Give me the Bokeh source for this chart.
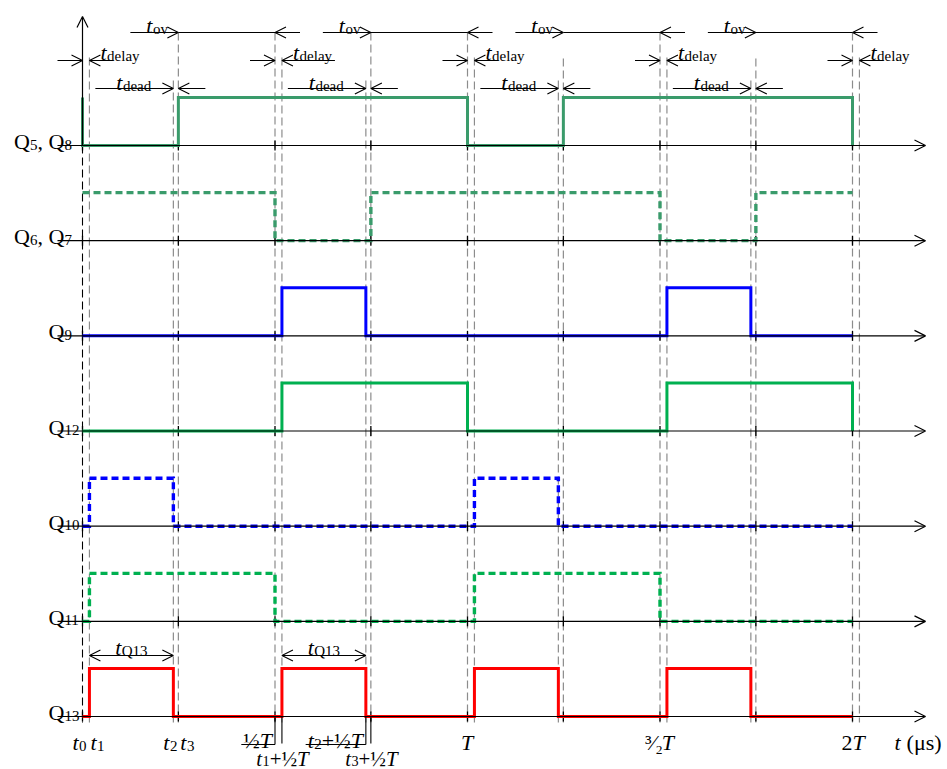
from bokeh.plotting import figure
from bokeh.models import ColumnDataSource, Arrow, OpenHead
from bokeh.core.properties import value, field
from bokeh.embed import file_html
from bokeh.resources import INLINE

# ---------------- data (time in units of the switching period T) ----------------
t1 = 0.018
t2 = 0.236
t3 = 0.249
half_periods = [0.0, 0.5, 1.0, 1.5, 2.0]

row_names = ["Q_5, Q_8", "Q_6, Q_7", "Q_9", "Q_12", "Q_10", "Q_11", "Q_13"]

q58_t = [0.0, 0.0, 0.249, 1.0, 1.249, 2.0]
q58_v = [1, 0, 1, 0, 1, 0]
q67_t = [0.0, 0.5, 0.749, 1.5, 1.749, 2.0]
q67_v = [1, 0, 1, 0, 1, 1]
q9_t = [0.0, 0.518, 0.736, 1.518, 1.736, 2.0]
q9_v = [0, 1, 0, 1, 0, 0]
q12_t = [0.0, 0.518, 1.0, 1.518, 2.0]
q12_v = [0, 1, 0, 1, 0]
q10_t = [0.0, 0.018, 0.236, 1.018, 1.236, 2.0]
q10_v = [0, 1, 0, 1, 0, 0]
q11_t = [0.0, 0.018, 0.5, 1.018, 1.5, 2.0]
q11_v = [0, 1, 0, 1, 0, 0]
q13_t = [0.0, 0.018, 0.236, 0.518, 0.736, 1.018, 1.236, 1.518, 1.736, 2.0]
q13_v = [0, 1, 0, 1, 0, 1, 0, 1, 0, 0]

guide_t1 = [0.018, 0.518, 1.018, 1.518, 2.018]
guide_t2 = [0.236, 0.736, 1.236, 1.736]
guide_t3 = [0.249, 0.749, 1.249, 1.749]
guide_half = [0.5, 1.0, 1.5, 2.0]
tick_times = [0.0, 0.249, 0.5, 0.749, 1.0, 1.249, 1.5, 1.749, 2.0]

axis_texts = ["t_0", "t_1", "t_2", "t_3", "½T", "t_1+½T", "t_2+½T", "t_3+½T", "T", "³⁄₂T", "2T"]
axis_times = [0.0, 0.018, 0.236, 0.249, 0.5, 0.518, 0.736, 0.749, 1.0, 1.5, 2.0]
unit_text = "t (μs)"

# ---------------- layout ----------------
W, H = 947, 769
OFF = 0.0                   # picture px of the figure's top-left corner
X0, SX = 82.0, 385.0        # picture px of t=0, px per T
Y0, SY = 145.0, 95.17       # picture px of first baseline, px per row
AMP = 48.0 / SY


def X(px):
    return (px - X0) / SX


def Y(py):
    return (Y0 - py) / SY


def PX(t):
    return X0 + SX * t


def PY(row):
    return Y0 + SY * row


p = figure(width=W, height=H, x_range=(X(OFF), X(OFF + W)), y_range=(Y(OFF + H), Y(OFF)),
           x_axis_type=None, y_axis_type=None, output_backend="svg",
           toolbar_location=None, min_border=0)
p.grid.visible = False
p.outline_line_color = None
p.background_fill_color = "white"
p.border_fill_color = "white"

FONT = value("Liberation Serif")
MAIN, SUB, SUBDROP = 22, 15, 3

# ---- guide lines (gray dashed) ----
gx, gy0, gy1 = [], [], []
for t in guide_t1:
    gx.append(X(PX(t))); gy0.append(Y(57)); gy1.append(Y(722))
for t in guide_t2:
    gx.append(X(PX(t))); gy0.append(Y(80)); gy1.append(Y(722))
for i, t in enumerate(guide_t3):
    gx.append(X(PX(t))); gy0.append(Y(32 if i < 2 else 58)); gy1.append(Y(722))
for t in guide_half:
    gx.append(X(PX(t))); gy0.append(Y(32)); gy1.append(Y(722))
p.segment(x0=gx, y0=gy0, x1=gx, y1=gy1, line_color="#8c8c8c", line_width=1.2, line_dash="8 4")

# t0 line: solid y-axis above first baseline, black dashed below
p.segment(x0=[0], y0=[Y(145)], x1=[0], y1=[Y(722)], line_color="black", line_width=1.1, line_dash="8 4")
p.add_layout(Arrow(end=OpenHead(size=11, line_width=1.2, line_color="black"),
                   x_start=0, y_start=Y(145), x_end=0, y_end=Y(16),
                   line_color="black", line_width=1.2))

# ---- baselines with arrows ----
for r in range(len(row_names)):
    p.add_layout(Arrow(end=OpenHead(size=11, line_width=1.2, line_color="black"),
                       x_start=X(57), y_start=-r, x_end=X(925), y_end=-r,
                       line_color="black", line_width=1.2))
    tx = tick_times
    p.segment(x0=tx, x1=tx, y0=[-r + 5 / SY] * len(tx), y1=[-r - 5 / SY] * len(tx),
              line_color="black", line_width=1.3)

# ---- signals ----
signals = [
    (q58_t, q58_v, "#3a9b6b", None),
    (q67_t, q67_v, "#3a9b6b", "7 4"),
    (q9_t, q9_v, "#0000ff", None),
    (q12_t, q12_v, "#00b050", None),
    (q10_t, q10_v, "#0000ff", "7 4"),
    (q11_t, q11_v, "#00b050", "7 4"),
    (q13_t, q13_v, "#ff0000", None),
]
for r, (ts, vs, col, dash) in enumerate(signals):
    xs = [ts[0]]
    ys = [vs[0] * AMP - r]
    for i in range(1, len(ts)):
        xs += [ts[i], ts[i]]
        ys += [vs[i - 1] * AMP - r, vs[i] * AMP - r]
    kw = dict(line_color=col, line_width=3.4 if dash else 3.0, line_join="miter")
    if dash:
        kw["line_dash"] = dash
    p.line(xs, ys, **kw)

# ---- dimension arrows ----
ax0, ay0, ax1, ay1 = [], [], [], []
sx0, sy0, sx1, sy1 = [], [], [], []


def arrow(px_from, px_to, py):
    ax0.append(X(px_from)); ax1.append(X(px_to)); ay0.append(Y(py)); ay1.append(Y(py))


def seg(pa, pb, py):
    sx0.append(X(pa)); sx1.append(X(pb)); sy0.append(Y(py)); sy1.append(Y(py))


# text runs
TX, TY, TT, TS, TST = [], [], [], [], []
UPW = {'Q': 0.722, ',': 0.25, ' ': 0.25, '+': 0.564, '½': 0.75, '(': 0.333, ')': 0.333,
       'μ': 0.576, 's': 0.389, 'd': 0.5, 'e': 0.444, 'l': 0.278, 'a': 0.444, 'y': 0.5,
       'o': 0.5, 'v': 0.5, '³': 0.3, '⁄': 0.167, '₂': 0.3}
ITW = {'t': 0.30, 'T': 0.60}


def parse(s):
    runs = []
    i = 0
    while i < len(s):
        c = s[i]
        if c == '_':
            j = i + 1
            while j < len(s) and s[j].isalnum():
                j += 1
            runs.append((s[i + 1:j], 'sub'))
            i = j
        elif c in 'tT':
            runs.append((c, 'it'))
            i += 1
        else:
            j = i
            while j < len(s) and s[j] not in '_tT':
                j += 1
            runs.append((s[i:j], 'up'))
            i = j
    return runs


def run_w(txt, kind, scale=1.0):
    size = (SUB if kind == 'sub' else MAIN) * scale
    table = ITW if kind == 'it' else UPW
    return sum(table.get(c, 0.5) for c in txt) * size


def text_w(s, scale=1.0):
    return sum(run_w(t, k, scale) for t, k in parse(s))


def label(px, py, s, align="left", scale=1.0):
    runs = parse(s)
    total = sum(run_w(t, k, scale) for t, k in runs)
    cur = px - (total if align == "right" else total / 2 if align == "center" else 0)
    for t, k in runs:
        lead = len(t) - len(t.lstrip(" "))
        if lead:
            cur += run_w(t[:lead], k, scale)
            t = t[lead:]
        body = t.rstrip(" ")
        TX.append(X(cur))
        TY.append(Y(py + (SUBDROP * scale if k == 'sub' else 0)))
        TT.append(body)
        TS.append(f"{(SUB if k == 'sub' else MAIN) * scale:.1f}px")
        TST.append("italic" if k == 'it' else "normal")
        cur += run_w(t, k, scale)


# t_ov
for k in range(4):
    a = PX(t3 + 0.5 * k)
    b = PX(0.5 + 0.5 * k)
    seg(a, b, 32)
    arrow(a - 48, a, 32)
    arrow(b + 25, b, 32)
    label(a - 32, 25, "t_ov")

# t_delay
for k, h in enumerate(half_periods):
    a = PX(h)
    c = PX(h + t1)
    arrow(a - 25, a, 60)
    arrow(c + (53 if k == 1 else 24), c, 60)
    label(a + 18, 52, "t_delay")

# t_dead
for k in range(4):
    a = PX(t2 + 0.5 * k)
    b = PX(t3 + 0.5 * k)
    arrow(a - 78, a, 88)
    arrow(b + 27, b, 88)
    label(a - 57, 82, "t_dead")

if sx0:
    p.segment(x0=sx0, y0=sy0, x1=sx1, y1=sy1, line_color="black", line_width=1.1)
p.add_layout(Arrow(end=OpenHead(size=11, line_width=1.1, line_color="black"),
                   source=ColumnDataSource(dict(x0=ax0, y0=ay0, x1=ax1, y1=ay1)),
                   x_start="x0", y_start="y0", x_end="x1", y_end="y1",
                   line_color="black", line_width=1.1))

# t_Q13 double arrows
for k in range(2):
    a = PX(t1 + 0.5 * k)
    b = PX(t2 + 0.5 * k)
    p.add_layout(Arrow(start=OpenHead(size=11, line_width=1.1, line_color="black"),
                       end=OpenHead(size=11, line_width=1.1, line_color="black"),
                       x_start=X(a), y_start=Y(655), x_end=X(b), y_end=Y(655),
                       line_color="black", line_width=1.1))
    label((a + b) / 2, 647, "t_Q13", "center")

# ---- row labels ----
for r, name in enumerate(row_names):
    idx = name.rfind("Q")
    start = 48 - text_w(name[:idx])
    label(start, PY(r) - 4, name)

# ---- time-axis labels ----
place = {
    "t_0": (-10, 742, "left", 1.0), "t_1": (1, 742, "left", 1.0),
    "t_2": (-10, 742, "left", 1.0), "t_3": (2, 742, "left", 1.0),
    "½T": (-2, 740, "right", 1.0), "t_1+½T": (1, 758, "center", 0.95),
    "t_2+½T": (-2, 740, "right", 1.0), "t_3+½T": (1, 758, "center", 0.95),
    "T": (0, 742, "center", 1.0), "³⁄₂T": (0, 742, "center", 1.0),
    "2T": (1, 742, "center", 1.0),
}
for s, t in zip(axis_texts, axis_times):
    dx, py, al, sc = place[s]
    label(PX(t) + dx, py, s, al, sc)
label(894, 742, unit_text)

# leader lines for the half-period labels
lx0, ly0, lx1, ly1 = [], [], [], []
for s, t in zip(axis_texts, axis_times):
    if s in ("½T", "t_2+½T"):
        xr = X(PX(t))
        lx0 += [xr, X(PX(t) - 2 - text_w(s) - 2)]
        lx1 += [xr, xr]
        ly0 += [Y(PY(6)), Y(744)]
        ly1 += [Y(744), Y(744)]
    elif s in ("t_1+½T", "t_3+½T"):
        xr = X(PX(t))
        lx0.append(xr); lx1.append(xr); ly0.append(Y(PY(6))); ly1.append(Y(743))
p.segment(x0=lx0, y0=ly0, x1=lx1, y1=ly1, line_color="black", line_width=1.1)

src = ColumnDataSource(dict(x=TX, y=TY, text=TT, size=TS, style=TST))
p.text(x="x", y="y", text="text", source=src, text_font=FONT,
       text_font_size=field("size"), text_font_style=field("style"),
       text_baseline="alphabetic", text_align="left", text_color="black")

open("out.html", "w").write(file_html(p, INLINE))
